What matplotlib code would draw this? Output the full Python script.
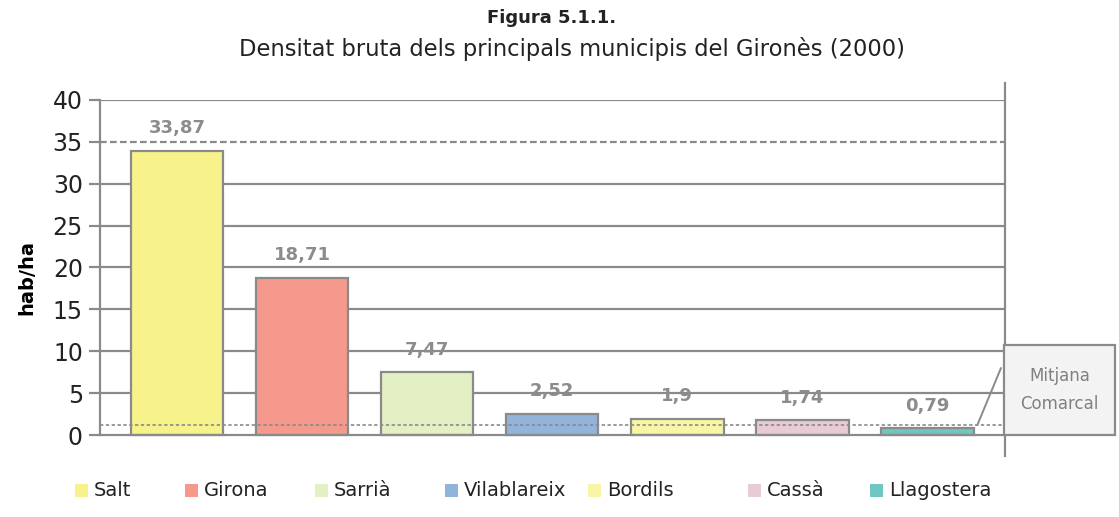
import matplotlib
matplotlib.use("Agg")
import matplotlib.pyplot as plt
from matplotlib.patches import Rectangle

municipis = ["Salt", "Girona", "Sarrià", "Vilablareix", "Bordils", "Cassà", "Llagostera"]
densitat = [33.87, 18.71, 7.47, 2.52, 1.9, 1.74, 0.79]
etiquetes = ["33,87", "18,71", "7,47", "2,52", "1,9", "1,74", "0,79"]
colors = ["#f7f38a", "#f4998c", "#e2f0c4", "#92b3da", "#f8f6a4", "#e9cbd3", "#6fc6c2"]
mitjana_comarcal = 1.2
yticks = [0, 5, 10, 15, 20, 25, 30, 35, 40]

plt.rcParams['font.family'] = ['DejaVu Sans']
W, H = 1119, 517
fig = plt.figure(figsize=(W / 100, H / 100), dpi=100)
ax = fig.add_axes([0.089, 0.118, 0.809, 0.689])

grid_c = "#8a8a8a"
for t in yticks[1:]:
    ls = (0, (3, 1.5)) if t == 35 else "-"
    ax.axhline(t, color=grid_c, lw=1.6, ls=ls, zorder=1)
ax.axhline(0, color=grid_c, lw=1.6, zorder=3)
ax.axhline(mitjana_comarcal, color=grid_c, lw=1.2, ls=(0, (2, 1.5)), zorder=4)

x = list(range(len(municipis)))
ax.bar(x, densitat, width=0.74, color=colors, edgecolor=grid_c, linewidth=1.6, zorder=2)
for xi, v, lab in zip(x, densitat, etiquetes):
    ax.annotate(lab, (xi, v), xytext=(0, 10), textcoords="offset points",
                ha="center", va="bottom", fontsize=13, fontweight="bold", color="#8c8c8c")

ax.set_xlim(-0.62, len(municipis) - 0.38)
ax.set_ylim(-2.5, 40)
ax.set_yticks(yticks)
ax.set_yticklabels([str(t) for t in yticks], fontsize=17, color="#222222")
ax.set_xticks([])
ax.tick_params(axis="y", length=8, width=1.6, color=grid_c, pad=4)
for s in ["left", "right"]:
    ax.spines[s].set_color(grid_c)
    ax.spines[s].set_linewidth(1.6)
ax.spines["top"].set_visible(False)
ax.spines["bottom"].set_visible(False)
ax.spines["left"].set_bounds(0, 40)
ax.spines["right"].set_bounds(-2.5, 42)
ax.set_ylabel("hab/ha", fontsize=14, fontweight="bold", labelpad=12)

# Mitjana comarcal annotation box
bx0, bx1, by0, by1 = 1004 / W, 1115 / W, 1 - 435 / H, 1 - 345 / H
fig.patches.append(Rectangle((bx0, by0), bx1 - bx0, by1 - by0, transform=fig.transFigure,
                             facecolor="#f3f3f3", edgecolor=grid_c, lw=1.6, zorder=5))
fig.text((bx0 + bx1) / 2, (by0 + by1) / 2, "Mitjana\nComarcal", ha="center", va="center",
         fontsize=12, color="#808080", linespacing=1.7, zorder=6)
ax.annotate("", xy=(6.4, mitjana_comarcal), xycoords="data",
            xytext=(1001 / W, 1 - 368 / H), textcoords="figure fraction",
            arrowprops=dict(arrowstyle="-", color=grid_c, lw=1.4, shrinkA=0, shrinkB=0),
            annotation_clip=False)

fig.text(0.493, 0.965, "Figura 5.1.1.", ha="center", va="center",
         fontsize=13, fontweight="bold", color="#222222")
fig.text(0.511, 0.905, "Densitat bruta dels principals municipis del Gironès (2000)",
         ha="center", va="center", fontsize=16.3, color="#222222")

# Legend, placed entry by entry
leg_x = [75, 185, 315, 445, 588, 748, 870]
leg_y = 1 - 490 / H
sq = 13
for px, name, c in zip(leg_x, municipis, colors):
    fig.patches.append(Rectangle((px / W, leg_y - sq / 2 / H), sq / W, sq / H,
                                 transform=fig.transFigure, facecolor=c, edgecolor="none"))
    fig.text((px + sq + 6) / W, leg_y, name, ha="left", va="center",
             fontsize=14, color="#222222")

fig.savefig("out.png", dpi=100)
